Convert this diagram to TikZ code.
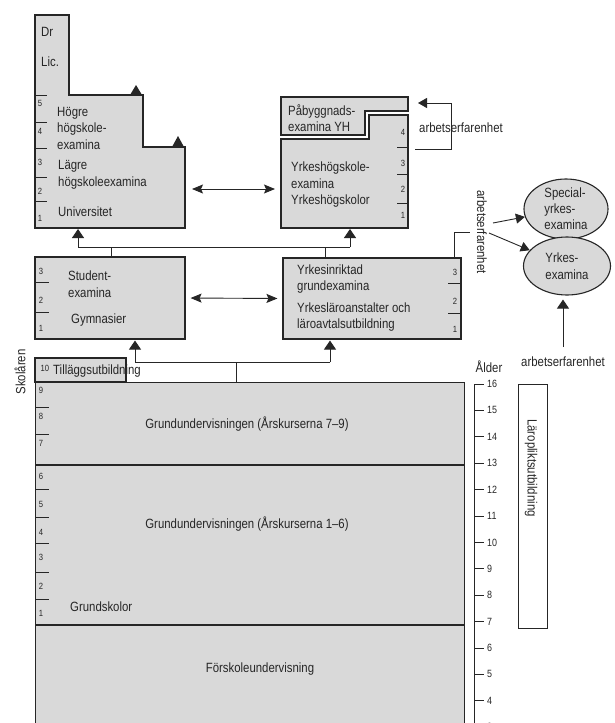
\documentclass[tikz,border=0pt]{standalone}
\usepackage{fontspec}
\setmainfont{Liberation Sans}[FakeStretch=0.85]
\usetikzlibrary{arrows.meta,shapes.geometric}
\definecolor{boxgray}{HTML}{D9D9D9}
\definecolor{ink}{HTML}{262626}
\begin{document}
\begin{tikzpicture}[x=1pt,y=-1pt,
  box/.style={draw=ink, fill=boxgray, line width=1.1pt, inner sep=0pt},
  txt/.style={inner sep=0pt, font=\fontsize{13.4}{16.5}\selectfont, align=left, anchor=west, text=ink},
  num/.style={inner sep=0pt, font=\fontsize{9}{10}\selectfont, text=ink},
  agenum/.style={inner sep=0pt, font=\fontsize{10.5}{12}\selectfont, text=ink, anchor=west},
  tick/.style={draw=ink, line width=0.7pt},
  conn/.style={draw=ink, line width=0.9pt},
  uptri/.style={conn, -{Triangle[width=12pt,length=9pt]}},
  ltri/.style={conn, -{Triangle[width=10pt,length=9pt]}},
  dbl/.style={conn, {Stealth[width=9pt,length=11pt,inset=2pt]}-{Stealth[width=9pt,length=11pt,inset=2pt]}},
]
\clip (0,0) rectangle (614,723);
\fill[white] (0,0) rectangle (614,723);

% ---------- University ----------
\draw[box] (35,15) -- (69,15) -- (69,95) -- (143,95) -- (143,147) -- (185,147) -- (185,228) -- (35,228) -- cycle;
\coordinate (uniE) at (185,189);
\coordinate (uniS) at (78,228);
\foreach \y in {95,122,148,177,201} \draw[tick] (35,\y) -- (47,\y);
\foreach \n/\y in {5/103,4/131,3/162,2/191,1/218} \node[num] (un\n) at (40,\y) {\n};
\node[txt] (dr) at (41,32) {Dr};
\node[txt] (lic) at (41,62) {Lic.};
\node[txt] (hogre) at (57,128) {Högre\\högskole-\\examina};
\node[txt] (lagre) at (58,175) {Lägre\\högskoleexamina};
\node[txt] (univ) at (58,212) {Universitet};
\fill[ink] (130,95) -- (142,95) -- (136,85) -- cycle;
\fill[ink] (172,147) -- (184,147) -- (178,136) -- cycle;

% ---------- Yrkeshogskolor ----------
\draw[box] (281,97) -- (408,97) -- (408,111) -- (365,111) -- (365,135) -- (281,135) -- cycle;
\draw[box] (281,139) -- (369,139) -- (369,115) -- (408,115) -- (408,228) -- (281,228) -- cycle;
\coordinate (yhW) at (281,189);
\coordinate (yhS) at (350,228);
\coordinate (lpA) at (415,149);
\coordinate (lpB) at (451,103);
\coordinate (lpC) at (418,103);
\foreach \y in {147,174,203} \draw[tick] (397,\y) -- (408,\y);
\foreach \n/\y in {4/132,3/163,2/189,1/215} \node[num] (yn\n) at (403,\y) {\n};
\node[txt] (pab) at (288,118) {Påbyggnads-\\examina YH};
\node[txt] (yhk) at (291,185) {Yrkeshögskole-\\examina\\Yrkeshögskolor};
\draw[ltri] (lpA) -| (lpB) -- (lpC);
\node[txt] (arb1) at (419,128) {arbetserfarenhet};

\draw[dbl, shorten <=7pt, shorten >=6pt] (uniE) -- (yhW);

% ---------- Secondary ----------
\node[box, minimum width=150pt, minimum height=82pt] (gym) at (110,298) {};
\foreach \y in {282,312} \draw[tick] (35,\y) -- (49,\y);
\foreach \n/\y in {3/271,2/300,1/328} \node[num] (gn\n) at (41,\y) {\n};
\node[txt] (stud) at (68,284) {Student-\\examina};
\node[txt] (gymt) at (71,320) {Gymnasier};

\node[box, minimum width=178pt, minimum height=81pt] (yrk) at (372,298.5) {};
\foreach \y in {283,313} \draw[tick] (448,\y) -- (461,\y);
\foreach \n/\y in {3/272,2/301,1/329} \node[num] (rn\n) at (455,\y) {\n};
\node[txt] (yrkin) at (297,279) {Yrkesinriktad\\grundexamina};
\node[txt] (yrkla) at (297,317) {Yrkesläroanstalter och\\läroavtalsutbildning};

\draw[dbl, shorten <=5pt, shorten >=5pt] (gym.east) -- (yrk.west);

\coordinate (jL) at (78,247);
\coordinate (jR) at (350,247);
\draw[conn] (jL) -- (jR);
\draw[uptri, shorten >=1pt] (jL) -- (uniS);
\draw[uptri, shorten >=1pt] (jR) -- (yhS);
\draw[conn] ([xshift=77pt]gym.north west) |- (jL);
\draw[conn] ([xshift=43pt]yrk.north west) |- (jR);

% ---------- work experience / vocational exams ----------
\coordinate (ae) at (470,232);
\draw[conn] ([xshift=-7pt]yrk.north east) |- (ae);
\node[txt, anchor=center, rotate=-90] (arb2) at (482,232) {arbetserfarenhet};
\node[box, ellipse, minimum width=84pt, minimum height=60pt, align=left,
      font=\fontsize{13.4}{16}\selectfont, text=ink] (spec) at (566,209) {Special-\\yrkes-\\examina};
\node[box, ellipse, minimum width=87pt, minimum height=58pt, align=left,
      font=\fontsize{13.4}{16.5}\selectfont, text=ink] (yrkE) at (567,266) {Yrkes-\\examina};
\coordinate (a1) at (493,223);
\coordinate (a2) at (489,233);
\draw[ltri] (a1) -- (spec);
\draw[ltri] (a2) -- (yrkE);
\node[txt, anchor=center] (arb3) at (563,362) {arbetserfarenhet};
\coordinate (aup) at (563,347);
\draw[uptri, shorten >=4pt] (aup) -- (aup |- yrkE.south);

% ---------- Basic education ----------
\node[box, minimum width=429pt, minimum height=360pt, anchor=north west] (grund) at (35,382) {};
\node[box, minimum width=91pt, minimum height=24pt] (till) at (80.5,370) {};
\node[num] (tn) at (45,368) {10};
\node[txt] (tillt) at (53,371) {Tilläggsutbildning};
\draw[conn, line width=1.2pt] (35,465) -- (464,465);
\draw[conn, line width=1.2pt] (35,625) -- (464,625);
\foreach \y in {407,434,489,517,543,572,599} \draw[tick] (35,\y) -- (49,\y);
\foreach \n/\y in {9/390,8/416,7/443,6/476,5/504,4/532,3/557,2/586,1/613} \node[num] (bn\n) at (41,\y) {\n};
\node[txt, anchor=center] (g79) at (247,424) {Grundundervisningen (Årskurserna 7–9)};
\node[txt, anchor=center] (g16) at (247,524) {Grundundervisningen (Årskurserna 1–6)};
\node[txt] (gsk) at (70,607) {Grundskolor};
\node[txt, anchor=center] (forsk) at (260,669) {Förskoleundervisning};

\coordinate (kL) at (135,362);
\coordinate (kR) at (330,362);
\draw[conn] (kL) -- (kR);
\draw[uptri, shorten >=1pt] (kL) -- (kL |- gym.south);
\draw[uptri, shorten >=1pt] (kR) -- (kR |- yrk.south);
\draw[conn] ([xshift=201pt]grund.north west) |- (kL);

% ---------- Age scale ----------
\node[txt, anchor=center] (alder) at (489,367) {Ålder};
\draw[conn] (474,384) -- (474,735);
\foreach \i in {0,...,13} {
  \pgfmathsetmacro{\yy}{384+26.4*\i}
  \pgfmathtruncatemacro{\aa}{16-\i}
  \draw[tick] (474,\yy) -- (484,\yy);
  \node[agenum] (age\aa) at (487,\yy) {\aa};
}
\node[draw=ink, line width=0.9pt, minimum width=29pt, minimum height=244pt, inner sep=0pt] (larop) at (532.5,506) {};
\node[txt, anchor=center, rotate=-90] (laropt) at (531,468) {Läropliktsutbildning};
\node[txt, anchor=center, rotate=90] (skol) at (20,372) {Skolåren};
\end{tikzpicture}
\end{document}
